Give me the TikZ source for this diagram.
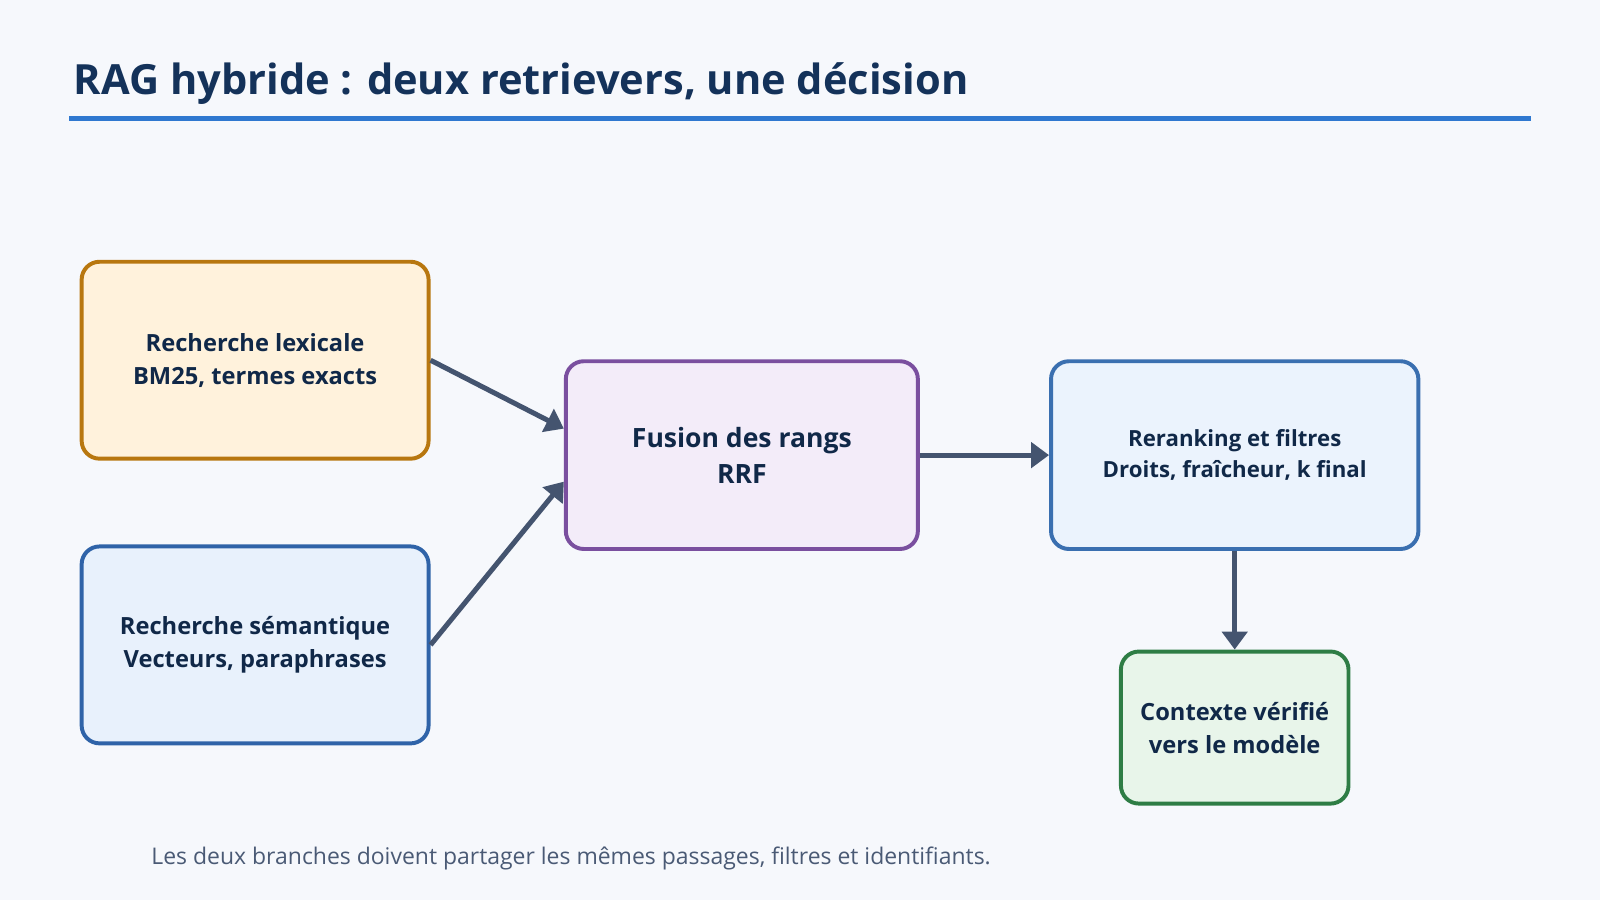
\documentclass[tikz,border=0pt]{standalone}
\usepackage{fontspec}
\setmainfont{Open Sans}
\usetikzlibrary{arrows.meta}
\definecolor{bgc}{HTML}{F6F8FC}
\definecolor{navy}{HTML}{14325A}
\definecolor{rulec}{HTML}{2F78D0}
\definecolor{arrc}{HTML}{44546F}
\definecolor{foot}{HTML}{4A5A75}
\definecolor{lexfill}{HTML}{FFF2DC}
\definecolor{lexdraw}{HTML}{B8770F}
\definecolor{semfill}{HTML}{E8F1FC}
\definecolor{semdraw}{HTML}{2F63A8}
\definecolor{fusfill}{HTML}{F3ECF9}
\definecolor{fusdraw}{HTML}{7A4F9F}
\definecolor{rerfill}{HTML}{EBF3FD}
\definecolor{rerdraw}{HTML}{3A6FB0}
\definecolor{ctxfill}{HTML}{E8F5EA}
\definecolor{ctxdraw}{HTML}{2E7D45}
\tikzset{
  box/.style={draw, line width=1.1pt, rounded corners=5pt, align=center,
    font=\fontsize{6.6}{9.2}\selectfont\bfseries, text=navy!80!black},
  flow/.style={draw=arrc, line width=1.4pt, -{Triangle[length=5pt,width=7pt]}}
}
\begin{document}
\begin{tikzpicture}
\fill[bgc] (0,0) rectangle (15.68,8.82);
\useasboundingbox (0,0) rectangle (15.68,8.82);
% title
\node[anchor=west, text=navy, font=\fontsize{11.6}{13}\selectfont\bfseries] (title) at (0.60,8.0) {RAG hybride : deux retrievers, une décision};
\draw[rulec, line width=1.2pt] (0.68,7.66) -- (15.0,7.66);
% boxes
\node[box, fill=lexfill, draw=lexdraw, minimum width=3.4cm, minimum height=1.93cm] (lex) at (2.50,5.29) {Recherche lexicale\\BM25, termes exacts};
\node[box, fill=semfill, draw=semdraw, minimum width=3.4cm, minimum height=1.93cm] (sem) at (2.50,2.50) {Recherche sémantique\\Vecteurs, paraphrases};
\node[box, fill=fusfill, draw=fusdraw, minimum width=3.45cm, minimum height=1.84cm, font=\fontsize{7.4}{10}\selectfont\bfseries] (fus) at (7.27,4.36) {Fusion des rangs\\RRF};
\node[box, fill=rerfill, draw=rerdraw, minimum width=3.6cm, minimum height=1.84cm, font=\fontsize{6.2}{8.8}\selectfont\bfseries] (rer) at (12.10,4.36) {Reranking et filtres\\Droits, fraîcheur, k final};
\node[box, fill=ctxfill, draw=ctxdraw, minimum width=2.23cm, minimum height=1.49cm] (ctx) at (12.10,1.69) {Contexte vérifié\\vers le modèle};
% connectors
\draw[flow] (lex.east |- 0,5.29) -- (fus.west |- 0,4.62);
\draw[flow] (sem.east |- 0,2.50) -- (fus.west |- 0,4.10);
\draw[flow] (fus) -- (rer);
\draw[flow] (rer) -- (ctx);
% note
\node[anchor=west, text=foot, font=\fontsize{6.4}{8}\selectfont] (note) at (1.36,0.41) {Les deux branches doivent partager les mêmes passages, filtres et identifiants.};
\end{tikzpicture}
\end{document}
